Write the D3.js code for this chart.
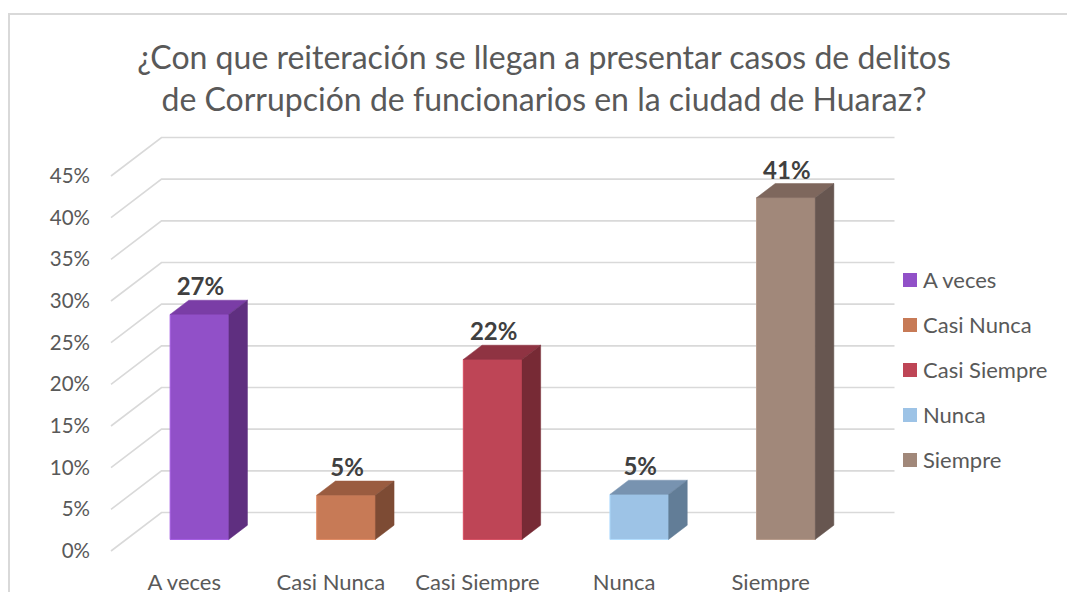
<!DOCTYPE html>
<html lang="es">
<head>
    <meta charset="UTF-8">
    <title>Reiteración de delitos de corrupción</title>
    <script src="https://cdn.jsdelivr.net/npm/d3@7/dist/d3.min.js"></script>
    <style>
        body { margin: 0; background: #fff; }
        svg { display: block; font-family: Lato, "Open Sans", sans-serif; }
        .axis text { fill: #595959; font-family: Lato, sans-serif; }
        .yaxis text { font-size: 20.5px; }
        .xaxis text { font-size: 22px; }
        .legend text { font-size: 22px; fill: #595959; }
        .value { font-size: 24px; font-weight: bold; fill: #404040; }
    </style>
</head>
<body>
<script>
    /******* DATA *******/
    const categories = ["A veces", "Casi Nunca", "Casi Siempre", "Nunca", "Siempre"];
    const values = [0.27, 0.053, 0.216, 0.054, 0.41];
    const yTicks = [0, 0.05, 0.10, 0.15, 0.20, 0.25, 0.30, 0.35, 0.40, 0.45];
    const titleLines = ["¿Con que reiteración se llegan a presentar casos de delitos",
                        "de Corrupción de funcionarios en la ciudad de Huaraz?"];

    // colours: front / top / side
    const frontColors = ["#9150c8", "#c77a56", "#be4556", "#9dc3e6", "#a1887a"];
    const topColors   = ["#7a3da6", "#9a5c40", "#8f3342", "#7893b0", "#7e675d"];
    const sideColors  = ["#5f2f80", "#7d4b34", "#772a35", "#627d97", "#675650"];

    /******* LAYOUT *******/
    const width = 1067, height = 592;
    const svg = d3.select("body").append("svg")
        .attr("width", width).attr("height", height);

    // chart border (runs off the right and bottom edges)
    svg.append("rect")
        .attr("x", 9).attr("y", 14)
        .attr("width", 1100).attr("height", 620)
        .attr("fill", "none").attr("stroke", "#d9d9d9").attr("stroke-width", 2);

    // 3D projection
    const floorY = 551;      // y of 0% at the front of the floor
    const DX = 50.5, DY = 38.5;   // shift from front to back wall
    const f1 = 0.30, f2 = 0.67;   // depth span of the bars

    const xScale = d3.scaleBand()
        .domain(categories)
        .range([111, 844]);
    const hScale = d3.scaleLinear()
        .domain([0, 0.45])
        .range([0, 375]);

    const px = (x, f) => x + f * DX;
    const py = (v, f) => floorY - f * DY - hScale(v);
    const pt = (x, v, f) => [px(x, f), py(v, f)];

    /******* GRID *******/
    const xLeft = xScale.range()[0], xRight = xScale.range()[1];
    const grid = svg.append("g");
    grid.selectAll("path")
        .data(yTicks)
        .enter()
        .append("path")
        .attr("d", t => d3.line()([pt(xLeft, t, 0), pt(xLeft, t, 1), pt(xRight, t, 1)]))
        .attr("fill", "none")
        .attr("stroke", "#d9d9d9")
        .attr("stroke-width", 1.6);

    // Y axis labels
    const yAxisScale = d3.scaleLinear()
        .domain([0, 0.45])
        .range([floorY, floorY - 375]);
    svg.append("g")
        .attr("class", "axis yaxis")
        .attr("transform", "translate(98,0)")
        .call(d3.axisLeft(yAxisScale).tickValues(yTicks).tickSize(0).tickPadding(8)
            .tickFormat(d3.format(".0%")))
        .call(g => g.select(".domain").remove());

    // X axis labels
    svg.append("g")
        .attr("class", "axis xaxis")
        .attr("transform", "translate(0,568)")
        .call(d3.axisBottom(xScale).tickSize(0).tickPadding(6))
        .call(g => g.select(".domain").remove());

    /******* BARS *******/
    const barW = xScale.bandwidth() * 0.4;
    const bars = svg.append("g").selectAll("g")
        .data(categories.map((c, i) => ({c: c, v: values[i], i: i})))
        .enter()
        .append("g");

    const x0 = d => xScale(d.c) + (xScale.bandwidth() - barW) / 2;
    const x1 = d => x0(d) + barW;
    const poly = pts => d3.line()(pts) + "Z";

    // front face
    bars.append("path")
        .attr("d", d => poly([pt(x0(d), 0, f1), pt(x1(d), 0, f1), pt(x1(d), d.v, f1), pt(x0(d), d.v, f1)]))
        .attr("fill", d => frontColors[d.i])
        .attr("stroke", d => d3.color(frontColors[d.i]).brighter(0.35))
        .attr("stroke-width", 1);
    // top face
    bars.append("path")
        .attr("d", d => poly([pt(x0(d), d.v, f1), pt(x1(d), d.v, f1), pt(x1(d), d.v, f2), pt(x0(d), d.v, f2)]))
        .attr("fill", d => topColors[d.i])
        .attr("stroke", d => topColors[d.i])
        .attr("stroke-width", 0.5);
    // side face
    bars.append("path")
        .attr("d", d => poly([pt(x1(d), 0, f1), pt(x1(d), 0, f2), pt(x1(d), d.v, f2), pt(x1(d), d.v, f1)]))
        .attr("fill", d => sideColors[d.i])
        .attr("stroke", d => sideColors[d.i])
        .attr("stroke-width", 0.5);

    // value labels
    bars.append("text")
        .attr("class", "value")
        .attr("x", d => px((x0(d) + x1(d)) / 2, f1) + 1)
        .attr("y", d => py(d.v, f2) - 5)
        .attr("text-anchor", "middle")
        .text(d => d3.format(".0%")(d.v));

    /******* LEGEND *******/
    const legend = svg.append("g").attr("class", "legend")
        .selectAll("g")
        .data(categories)
        .enter()
        .append("g")
        .attr("transform", (d, i) => `translate(903,${280 + i * 45})`);
    legend.append("rect")
        .attr("x", 0).attr("y", -7)
        .attr("width", 14).attr("height", 14)
        .attr("fill", (d, i) => frontColors[i]);
    legend.append("text")
        .attr("x", 20).attr("y", 0)
        .attr("dy", "0.35em")
        .text(d => d);

    /******* TITLE *******/
    svg.append("g")
        .selectAll("text")
        .data(titleLines)
        .enter()
        .append("text")
        .attr("x", 544)
        .attr("y", (d, i) => 69 + i * 42)
        .attr("text-anchor", "middle")
        .style("font-size", "32px")
        .style("fill", "#595959")
        .text(d => d);
</script>
</body>
</html>
